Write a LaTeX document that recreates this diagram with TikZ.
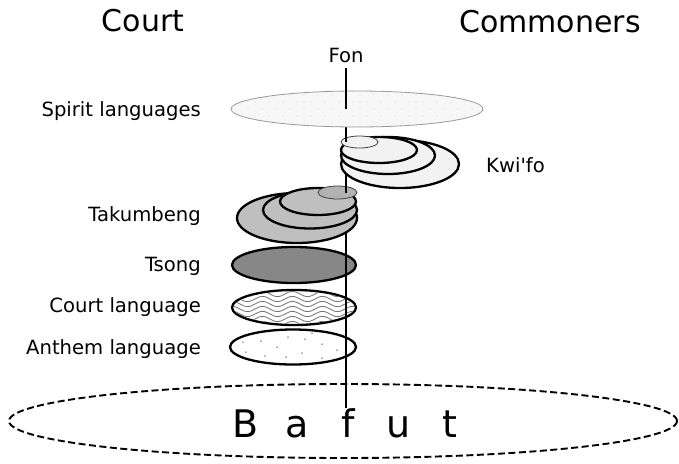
\documentclass[tikz,border=0pt]{standalone}
\usepackage{fontspec}
\setmainfont{DejaVu Sans}
\usetikzlibrary{shapes.geometric}
\begin{document}
\begin{tikzpicture}[x=1pt,y=-1pt,
  layer/.style={ellipse, draw=black, line width=2.3pt, inner sep=0pt},
  thinlayer/.style={ellipse, draw=black!75, line width=0.8pt, inner sep=0pt},
  lbl/.style={font=\fontsize{19.6}{23}\selectfont, inner sep=0pt},
  head/.style={font=\fontsize{30}{34}\selectfont, inner sep=0pt},
  axisline/.style={line width=2pt, black}]
\useasboundingbox (0,0) rectangle (679,463);

% headings
\node[head] (court) at (143,21) {Court};
\node[head] (commoners) at (550,22) {Commoners};
\node[lbl] (fon) at (346,55) {Fon};

% Bafut base
\node[ellipse, draw, dash pattern=on 7pt off 3.5pt, line width=1.9pt,
      minimum width=668pt, minimum height=74pt, inner sep=0pt] (bafut) at (343,421) {};
\node[font=\fontsize{38}{42}\selectfont, inner sep=0pt] (bafuttext) at (348,423)
  {\makebox[51pt]{B}\makebox[51pt]{a}\makebox[51pt]{f}\makebox[51pt]{u}\makebox[51pt]{t}};
\coordinate (fonbottom) at (346,408);
\coordinate (fontop) at (346,68);

% Anthem language
\node[layer, fill=white, minimum width=126pt, minimum height=35pt] (anthem) at (293,347) {};
\begin{scope}
  \clip (anthem.center) ellipse [x radius=61.5, y radius=16];
  \foreach \p in {(261,341),(288,337),(305,339),(322,344),(277,347),(246,352),
                  (302,353),(337,350),(265,356),(286,357),(322,358),(243,342),(312,333)}
    \fill[black!70] \p circle (0.75);
\end{scope}
\draw[axisline] (fonbottom) -- (fonbottom |- anthem.center);

% Court language
\node[layer, fill=white, minimum width=124pt, minimum height=35pt] (courtlang) at (294,307.5) {};
\begin{scope}
  \clip (courtlang.center) ellipse [x radius=60.8, y radius=16.3];
  \foreach \yy in {289,294,...,329}
    \draw[black!55, line width=0.8pt] plot[domain=225:365, samples=90, smooth]
      (\x, {\yy + 2.6*sin(\x*12)});
\end{scope}
\draw[axisline] (fonbottom |- anthem.center) -- (fonbottom |- courtlang.center);

% Tsong
\node[layer, fill=black!47, minimum width=124pt, minimum height=36pt] (tsong) at (294,265) {};
\draw[axisline] (fonbottom |- courtlang.center) -- (fonbottom |- tsong.center);

% Takumbeng stack (line hidden until the smallest disc)
\draw[axisline] (fonbottom |- tsong.center) -- (346,192.5);
\node[layer, fill=black!25, minimum width=120pt, minimum height=50pt] (tak1) at (297,218) {};
\node[layer, fill=black!25, minimum width=94pt, minimum height=37pt] (tak2) at (310,210) {};
\node[layer, fill=black!25, minimum width=76pt, minimum height=27pt] (tak3) at (318,201.5) {};
\node[thinlayer, fill=black!30, minimum width=39pt, minimum height=13pt] (tak4) at (337.5,192.5) {};
\draw[axisline] (fonbottom |- tak4.center) -- (346,142);

% Kwi'fo stack
\node[layer, fill=black!5, minimum width=118pt, minimum height=48pt] (kwi1) at (400,164) {};
\node[layer, fill=black!5, minimum width=94pt, minimum height=37pt] (kwi2) at (388,155.5) {};
\node[layer, fill=black!5, minimum width=76pt, minimum height=26pt] (kwi3) at (379,150) {};
\node[thinlayer, fill=black!5, minimum width=37pt, minimum height=12pt] (kwi4) at (359.5,142) {};
\draw[axisline] (fonbottom |- kwi4.center) -- (346,109);

% Spirit languages
\node[ellipse, draw=black!40, line width=0.8pt, fill=black!3, inner sep=0pt,
  minimum width=252pt, minimum height=36pt] (spirit) at (357,109) {};
\begin{scope}
  \clip (spirit.center) ellipse [x radius=124, y radius=16.5];
  \foreach \i in {0,...,17} \foreach \j in {0,...,4} {
    \pgfmathsetmacro{\xx}{234 + 14*\i + 7*mod(\j,2)}
    \pgfmathsetmacro{\yy}{95 + 7*\j}
    \fill[black!40] (\xx,\yy) circle (0.45);
  }
\end{scope}
\draw[axisline] (fontop) -- (fonbottom |- spirit.center);

% labels
\node[lbl, anchor=east] (lspirit) at (201,111) {Spirit languages};
\node[lbl, anchor=west] (lkwifo) at (486,165) {Kwi\textquotesingle fo};
\node[lbl, anchor=east] (ltak) at (201,216) {Takumbeng};
\node[lbl, anchor=east] (ltsong) at (201,266) {Tsong};
\node[lbl, anchor=east] (lcourt) at (201,307) {Court language};
\node[lbl, anchor=east] (lanthem) at (201,349) {Anthem language};
\end{tikzpicture}
\end{document}
